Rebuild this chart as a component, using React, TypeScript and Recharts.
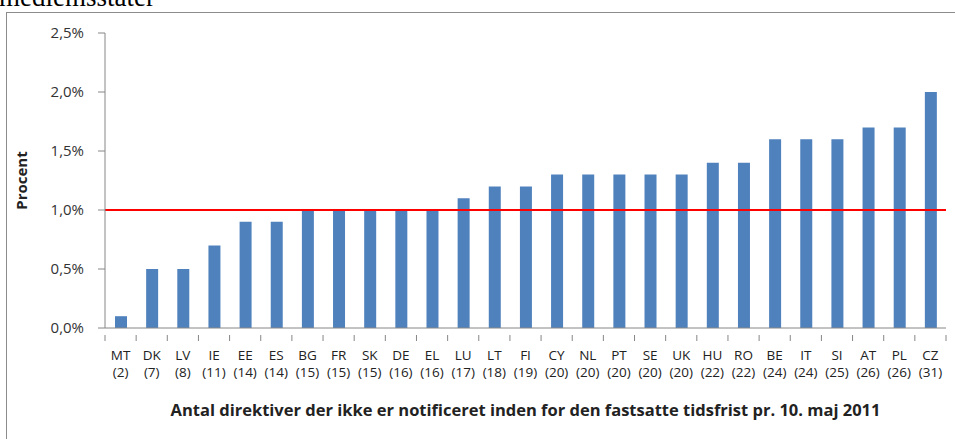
import { Bar, BarChart, Label, ReferenceLine, XAxis, YAxis } from "recharts";

const countries = ["MT", "DK", "LV", "IE", "EE", "ES", "BG", "FR", "SK", "DE", "EL", "LU", "LT", "FI", "CY", "NL", "PT", "SE", "UK", "HU", "RO", "BE", "IT", "SI", "AT", "PL", "CZ"];
const counts = [2, 7, 8, 11, 14, 14, 15, 15, 15, 16, 16, 17, 18, 19, 20, 20, 20, 20, 20, 22, 22, 24, 24, 25, 26, 26, 31];
const shares = [0.1, 0.5, 0.5, 0.7, 0.9, 0.9, 1.0, 1.0, 1.0, 1.0, 1.0, 1.1, 1.2, 1.2, 1.3, 1.3, 1.3, 1.3, 1.3, 1.4, 1.4, 1.6, 1.6, 1.6, 1.7, 1.7, 2.0];
const yTicks = [0, 0.5, 1.0, 1.5, 2.0, 2.5];
const target = 1.0;

const data = countries.map((c, i) => ({ label: `${c}|(${counts[i]})`, value: shares[i] }));

const FONT = "'Open Sans', 'DejaVu Sans', sans-serif";
const BAND = (946 - 105) / countries.length;

const fmtPct = (v: number) => v.toFixed(1).replace(".", ",") + "%";

function CountryTick(props: any) {
  const { x, y, payload, index } = props;
  const [code, num] = String(payload.value).split("|");
  const last = index === countries.length - 1;
  return (
    <g>
      <line x1={x - BAND / 2} y1={y - 1} x2={x - BAND / 2} y2={y + 5} stroke="#868686" />
      {last && <line x1={x + BAND / 2} y1={y - 1} x2={x + BAND / 2} y2={y + 5} stroke="#868686" />}
      <text x={x} y={y + 23.5} textAnchor="middle" fontSize={13.5} fill="#222" fontFamily={FONT}>
        {code}
      </text>
      <text x={x} y={y + 40.5} textAnchor="middle" fontSize={13.5} fill="#222" fontFamily={FONT}>
        {num}
      </text>
    </g>
  );
}

export default function App() {
  return (
    <div style={{ position: "absolute", left: 0, top: 0, width: 955, height: 439, overflow: "hidden", background: "#fff" }}>
      <div style={{ position: "absolute", left: -1, top: -16, fontFamily: "'Liberation Serif', serif", fontSize: 27, lineHeight: "27px", color: "#000" }}>
        medlemsstater
      </div>
      <div style={{ position: "absolute", left: 6, top: 12, width: 980, height: 460, border: "1px solid #8c8c8c", borderRightWidth: 0, boxSizing: "border-box" }} />
      <div style={{ position: "absolute", left: 0, top: 0 }}>
        <BarChart width={955} height={439} data={data} margin={{ top: 33, right: 9, bottom: 0, left: 0 }}>
          <XAxis
            dataKey="label"
            height={111}
            interval={0}
            tickLine={false}
            axisLine={{ stroke: "#868686" }}
            tick={<CountryTick />}
          >
            <Label
              value="Antal direktiver der ikke er notificeret inden for den fastsatte tidsfrist pr. 10. maj 2011"
              position="insideBottom"
              offset={23}
              style={{ fontSize: 16.5, fontWeight: 700, fill: "#222", fontFamily: FONT }}
            />
          </XAxis>
          <YAxis
            width={105}
            domain={[0, 2.5]}
            ticks={yTicks}
            tickFormatter={fmtPct}
            tickSize={7}
            tickMargin={14}
            tickLine={{ stroke: "#868686" }}
            axisLine={{ stroke: "#868686" }}
            tick={{ fontSize: 15, fill: "#333", fontFamily: FONT }}
          >
            <Label
              value="Procent"
              angle={-90}
              position="insideLeft"
              offset={22}
              style={{ fontSize: 15, fontWeight: 700, fill: "#222", fontFamily: FONT, textAnchor: "middle" }}
            />
          </YAxis>
          <Bar dataKey="value" fill="#4F81BD" barSize={12} isAnimationActive={false} />
          <ReferenceLine y={target} stroke="#FF0000" strokeWidth={2} />
        </BarChart>
      </div>
    </div>
  );
}
